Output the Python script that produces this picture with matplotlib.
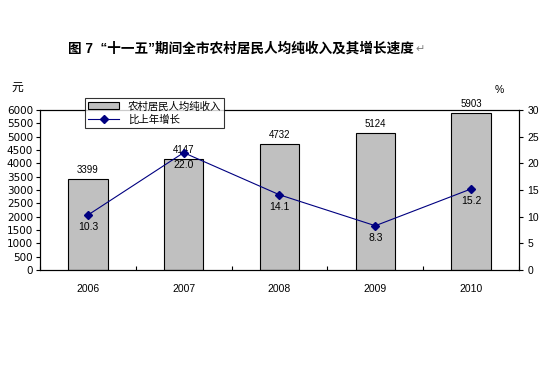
import numpy as np
import matplotlib.pyplot as plt
from matplotlib.lines import Line2D
from matplotlib.patches import Patch

plt.rcParams['font.family'] = ['Liberation Sans', 'Noto Sans CJK SC', 'DejaVu Sans']

years = ['2006', '2007', '2008', '2009', '2010']
income = [3399, 4147, 4732, 5124, 5903]
growth = [10.3, 22.0, 14.1, 8.3, 15.2]

fig = plt.figure(figsize=(5.53, 3.84), dpi=100)
ax = fig.add_axes([0.0723, 0.2969, 0.8662, 0.4166])
x = np.arange(len(years))

ax.bar(x, income, width=0.41, color='#c0c0c0', edgecolor='black', linewidth=0.8, zorder=2)
for xi, v in zip(x, income):
    ax.text(xi, v + 150, str(v), ha='center', va='bottom', fontsize=7)

ax.set_xlim(-0.5, len(years) - 0.5)
ax.set_ylim(0, 6000)
ax.set_yticks(np.arange(0, 6001, 500))
ax.set_xticks(np.arange(-0.5, len(years), 1.0))
ax.set_xticklabels([])
ax.tick_params(axis='x', direction='in', length=3, width=0.8)
ax.tick_params(axis='y', direction='out', length=3, width=0.8, labelsize=7.5, pad=2)
for lab in ax.get_yticklabels():
    lab.set_family('DejaVu Sans')
for xi, yr in zip(x, years):
    ax.text(xi, -0.09, yr, transform=ax.get_xaxis_transform(), ha='center', va='top', fontsize=7.5)
for s in ax.spines.values():
    s.set_linewidth(0.8)

ax2 = ax.twinx()
ax2.plot(x, growth, color='#000080', linewidth=0.8, marker='D', markersize=4, zorder=3)
for xi, v in zip(x, growth):
    ax2.text(xi, v - 1.3, '%.1f' % v, ha='center', va='top', fontsize=7.5)
ax2.set_ylim(0, 30)
ax2.set_yticks(np.arange(0, 31, 5))
ax2.tick_params(axis='y', direction='out', length=3, width=0.8, labelsize=7.5, pad=3)
for s in ax2.spines.values():
    s.set_linewidth(0.8)

handles = [Patch(facecolor='#c0c0c0', edgecolor='black', linewidth=0.8),
           Line2D([0], [0], color='#000080', linewidth=0.8, marker='D', markersize=4)]
leg = ax2.legend(handles, ['农村居民人均纯收入', '比上年增长'], loc='upper left',
                 bbox_to_anchor=(0.094, 1.075), fontsize=7.5, frameon=True, fancybox=False,
                 borderpad=0.3, labelspacing=0.3, handlelength=3.0, borderaxespad=0)
leg.get_frame().set_edgecolor('black')
leg.get_frame().set_linewidth(0.8)

title = fig.text(0.123, 0.873, '图 7  “十一五”期间全市农村居民人均纯收入及其增长速度', ha='left', va='center',
                 fontsize=9.8, fontweight='bold')
fig.canvas.draw()
bb = title.get_window_extent().transformed(fig.transFigure.inverted())
fig.text(bb.x1 + 0.003, 0.873, '↵', ha='left', va='center', fontsize=8, color='#808080')
fig.text(0.02, 0.77, '元', ha='left', va='center', fontsize=8.5)
fig.text(0.895, 0.765, '%', ha='left', va='center', fontsize=7.5)

fig.savefig('out.png', dpi=100, facecolor='white')
